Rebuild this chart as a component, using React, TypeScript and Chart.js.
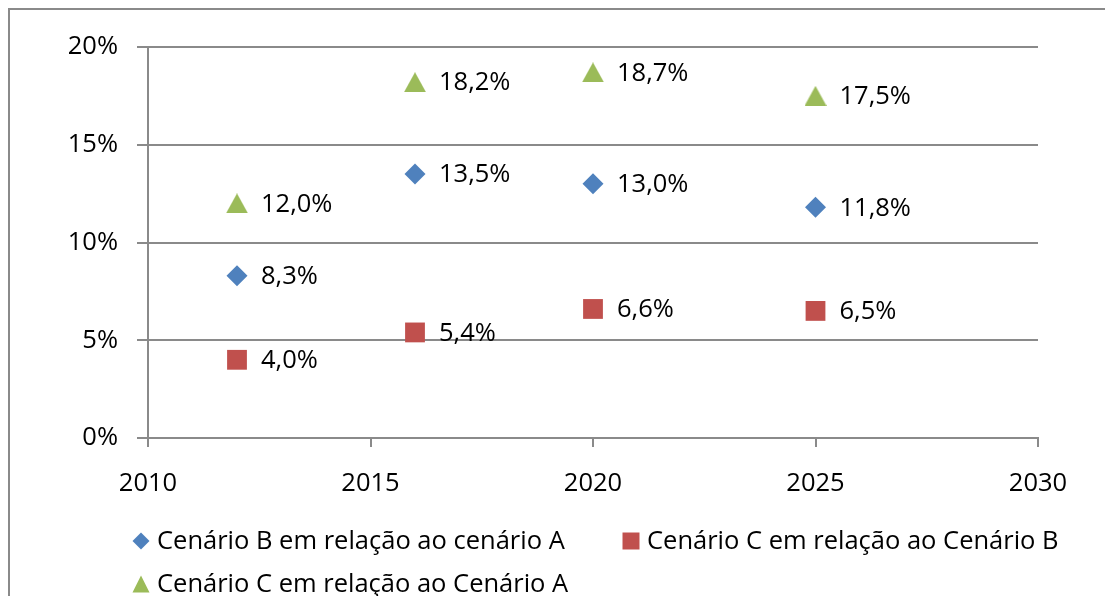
import React, { useEffect, useRef } from "react";
import { Chart, registerables } from "chart.js";

Chart.register(...registerables);

// ---- data ----
const years = [2012, 2016, 2020, 2025];
const seriesNames = [
  "Cenário B em relação ao cenário A",
  "Cenário C em relação ao Cenário B",
  "Cenário C em relação ao Cenário A",
];
const bVsA = [8.3, 13.5, 13.0, 11.8];
const cVsB = [4.0, 5.4, 6.6, 6.5];
const cVsA = [12.0, 18.2, 18.7, 17.5];
const xTicks = [2010, 2015, 2020, 2025, 2030];
const yTicks = [0, 5, 10, 15, 20];

// ---- styles ----
const BLUE = "#4F81BD";
const RED = "#C0504D";
const GREEN = "#9BBB59";
const GRID = "#8a8a8a";
const TEXT = "#000000";
const FONT_FAMILY = "'Open Sans', Lato, sans-serif";
const FONT_SIZE = 25.5;

const fmt = (v: number) => v.toFixed(1).replace(".", ",") + "%";

function makeTriangle(w: number, h: number, color: string) {
  const c = document.createElement("canvas");
  c.width = w;
  c.height = h;
  const ctx = c.getContext("2d")!;
  ctx.fillStyle = color;
  ctx.beginPath();
  ctx.moveTo(w / 2, 0);
  ctx.lineTo(w, h);
  ctx.lineTo(0, h);
  ctx.closePath();
  ctx.fill();
  return c;
}

const dataLabelPlugin = {
  id: "dataLabels",
  afterDatasetsDraw(chart: any) {
    const ctx = chart.ctx;
    ctx.save();
    ctx.font = `${FONT_SIZE}px ${FONT_FAMILY}`;
    ctx.fillStyle = TEXT;
    ctx.textAlign = "left";
    ctx.textBaseline = "middle";
    chart.data.datasets.forEach((ds: any, i: number) => {
      const meta = chart.getDatasetMeta(i);
      meta.data.forEach((el: any, j: number) => {
        const v = ds.data[j].y;
        ctx.fillText(fmt(v), el.x + 24, el.y + 1);
      });
    });
    ctx.restore();
  },
};

function drawMarker(ctx: CanvasRenderingContext2D, kind: string, x: number, y: number, color: string) {
  ctx.fillStyle = color;
  ctx.beginPath();
  if (kind === "diamond") {
    const r = 8.5;
    ctx.moveTo(x, y - r);
    ctx.lineTo(x + r, y);
    ctx.lineTo(x, y + r);
    ctx.lineTo(x - r, y);
  } else if (kind === "square") {
    const s = 8.5;
    ctx.rect(x - s, y - s, 2 * s, 2 * s);
  } else {
    const s = 8.5;
    ctx.moveTo(x, y - s);
    ctx.lineTo(x + s, y + s);
    ctx.lineTo(x - s, y + s);
  }
  ctx.closePath();
  ctx.fill();
}

const legendPlugin = {
  id: "customLegend",
  afterDraw(chart: any) {
    const ctx = chart.ctx;
    const area = chart.chartArea;
    ctx.save();
    ctx.font = `${FONT_SIZE}px ${FONT_FAMILY}`;
    ctx.textAlign = "left";
    ctx.textBaseline = "middle";
    const kinds = ["diamond", "square", "triangle"];
    const colors = [BLUE, RED, GREEN];
    const row1 = area.bottom + 103;
    const row2 = area.bottom + 146;
    const x0 = area.left - 7;
    const x1 = area.left + 483;
    const pos = [
      [x0, row1],
      [x1, row1],
      [x0, row2],
    ];
    seriesNames.forEach((name, i) => {
      const [mx, my] = pos[i];
      drawMarker(ctx, kinds[i], mx, my, colors[i]);
      ctx.fillStyle = TEXT;
      ctx.fillText(name, mx + 16, my + 1);
    });
    ctx.restore();
  },
};

export default function App() {
  const ref = useRef<HTMLCanvasElement | null>(null);

  useEffect(() => {
    if (!ref.current) return;
    const tri = makeTriangle(22, 20, GREEN);
    const toPts = (arr: number[]) => years.map((x, i) => ({ x, y: arr[i] }));
    const chart = new Chart(ref.current, {
      type: "scatter",
      data: {
        datasets: [
          {
            label: seriesNames[0],
            data: toPts(bVsA),
            pointStyle: "rectRot",
            pointRadius: 10.5,
            pointHoverRadius: 10.5,
            backgroundColor: BLUE,
            borderColor: BLUE,
            borderWidth: 0,
          },
          {
            label: seriesNames[1],
            data: toPts(cVsB),
            pointStyle: "rect",
            pointRadius: 14,
            pointHoverRadius: 14,
            backgroundColor: RED,
            borderColor: RED,
            borderWidth: 0,
          },
          {
            label: seriesNames[2],
            data: toPts(cVsA),
            pointStyle: tri as any,
            pointRadius: 11,
            backgroundColor: GREEN,
            borderColor: GREEN,
            borderWidth: 0,
          },
        ],
      },
      options: {
        animation: false,
        responsive: false,
        devicePixelRatio: 1,
        layout: { padding: { left: 0, top: 39, right: 75, bottom: 98 } },
        plugins: {
          legend: { display: false },
          tooltip: { enabled: false },
        },
        scales: {
          x: {
            type: "linear",
            min: xTicks[0],
            max: xTicks[xTicks.length - 1],
            afterBuildTicks: (scale: any) => {
              scale.ticks = xTicks.map((v) => ({ value: v }));
            },
            afterFit: (scale: any) => {
              scale.height = 60;
            },
            grid: {
              drawOnChartArea: false,
              color: GRID,
              lineWidth: 2,
              tickLength: 9,
            },
            border: { color: GRID, width: 2 },
            ticks: {
              padding: 21,
              color: TEXT,
              font: { family: FONT_FAMILY, size: FONT_SIZE },
              callback: (v: any) => String(v),
              maxRotation: 0,
            },
          },
          y: {
            min: yTicks[0],
            max: yTicks[yTicks.length - 1],
            afterBuildTicks: (scale: any) => {
              scale.ticks = yTicks.map((v) => ({ value: v }));
            },
            afterFit: (scale: any) => {
              scale.width = 140;
            },
            grid: {
              color: GRID,
              lineWidth: 2,
              tickLength: 11,
            },
            border: { color: GRID, width: 2 },
            ticks: {
              padding: 19,
              color: TEXT,
              font: { family: FONT_FAMILY, size: FONT_SIZE },
              callback: (v: any) => v + "%",
            },
          },
        },
      } as any,
      plugins: [dataLabelPlugin, legendPlugin],
    });
    return () => chart.destroy();
  }, []);

  return (
    <div style={{ position: "relative", width: 1105, height: 588, overflow: "hidden" }}>
      <div
        style={{
          position: "absolute",
          left: 0,
          top: 0,
          width: 1200,
          height: 700,
          border: `2px solid ${GRID}`,
          boxSizing: "border-box",
        }}
      />
      <canvas
        ref={ref}
        width={1105}
        height={588}
        style={{ position: "absolute", left: 0, top: 0, width: 1105, height: 588 }}
      />
    </div>
  );
}
